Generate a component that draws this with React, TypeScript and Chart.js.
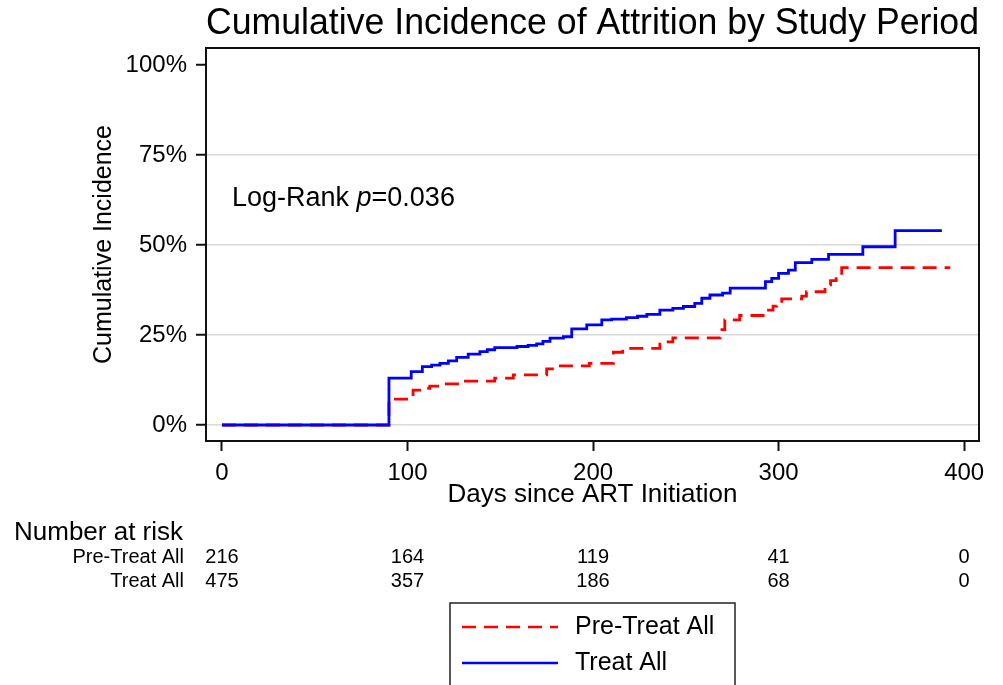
import React, { useEffect, useRef } from "react";
import { Chart, registerables } from "chart.js";

Chart.register(...registerables);

const FONT = "'Liberation Sans', Arial, Helvetica, sans-serif";

// Kaplan-Meier style cumulative incidence (%), step points: day of event -> new level
const preTreatDays = [0, 90, 103, 108, 112, 117.5, 128, 147, 157, 175, 180.4, 198, 211, 216, 236, 243, 268.5, 271, 279, 293.6, 297, 299, 301.7, 312.5, 315, 325, 328, 331, 334, 392.5];
const preTreatIncidence = [0, 7.2, 9.7, 10.2, 10.8, 11.4, 12.2, 13.0, 13.9, 15.6, 16.4, 17.1, 20.2, 21.3, 23.1, 24.2, 26.5, 29.2, 30.4, 31.9, 33.0, 33.8, 35.0, 35.8, 37.0, 38.9, 40.1, 42.1, 43.7, 43.7];

const treatDays = [0, 90, 102, 108, 113, 117.5, 122, 126.5, 132.7, 139, 143, 147, 159, 165, 169.6, 173, 176.8, 184, 188.5, 196.6, 204.7, 210, 218, 224, 229, 236, 243, 248.7, 254.8, 258.6, 263, 269.8, 273.9, 292.9, 296.3, 300, 305.3, 309, 317.9, 326.9, 345.4, 362.8, 388];
const treatIncidence = [0, 13.0, 14.8, 16.2, 16.6, 17.1, 17.8, 18.8, 19.7, 20.4, 20.9, 21.5, 21.8, 22.1, 22.5, 23.2, 24.1, 24.5, 26.7, 27.8, 29.2, 29.4, 29.8, 30.2, 30.7, 31.9, 32.4, 32.9, 33.8, 35.2, 36.1, 36.6, 38.0, 39.8, 40.7, 42.1, 43.0, 45.1, 46.0, 47.4, 49.5, 54.0, 54.0];

const xTicks = [0, 100, 200, 300, 400];
const yTicks = [0, 25, 50, 75, 100];

const riskTimes = [0, 100, 200, 300, 400];
const riskPreTreat = [216, 164, 119, 41, 0];
const riskTreat = [475, 357, 186, 68, 0];

const seriesNames = ["Pre-Treat All", "Treat All"];
const seriesColors = ["#ff0000", "#0000ff"];

const titleText = "Cumulative Incidence of Attrition by Study Period";
const xTitle = "Days since ART Initiation";
const yTitle = "Cumulative Incidence";
const riskHeader = "Number at risk";
const annotationPre = "Log-Rank ";
const annotationP = "p";
const annotationPost = "=0.036";
const annotationAt = { x: 5.4, y: 63 };

const toPoints = (xs: number[], ys: number[]) => xs.map((x, i) => ({ x, y: ys[i] }));

const extrasPlugin = {
  id: "extras",
  afterDatasetsDraw(chart: any) {
    const { ctx, chartArea, scales } = chart;
    const xs = scales.x;
    const ys = scales.y;
    ctx.save();
    // plot frame
    ctx.strokeStyle = "#111";
    ctx.lineWidth = 2;
    ctx.strokeRect(chartArea.left, chartArea.top, chartArea.right - chartArea.left, chartArea.bottom - chartArea.top);

    // annotation
    ctx.fillStyle = "#000";
    ctx.textBaseline = "middle";
    ctx.textAlign = "left";
    const ax = xs.getPixelForValue(annotationAt.x);
    const ay = ys.getPixelForValue(annotationAt.y);
    ctx.font = `27px ${FONT}`;
    ctx.fillText(annotationPre, ax, ay);
    let w = ctx.measureText(annotationPre).width;
    ctx.font = `italic 27px ${FONT}`;
    ctx.fillText(annotationP, ax + w, ay);
    w += ctx.measureText(annotationP).width;
    ctx.font = `27px ${FONT}`;
    ctx.fillText(annotationPost, ax + w, ay);
    ctx.restore();
  },
  afterDraw(chart: any) {
    const { ctx, scales } = chart;
    const xs = scales.x;
    ctx.save();
    ctx.fillStyle = "#000";
    ctx.textBaseline = "middle";
    // number at risk
    ctx.font = `26px ${FONT}`;
    ctx.textAlign = "left";
    ctx.fillText(riskHeader, 14, 533);
    ctx.font = `20px ${FONT}`;
    ctx.textAlign = "right";
    ctx.fillText(seriesNames[0], 184, 557);
    ctx.fillText(seriesNames[1], 184, 581);
    ctx.textAlign = "center";
    riskTimes.forEach((t, i) => {
      const px = xs.getPixelForValue(t);
      ctx.fillText(String(riskPreTreat[i]), px, 557);
      ctx.fillText(String(riskTreat[i]), px, 581);
    });

    // legend
    ctx.strokeStyle = "#222";
    ctx.lineWidth = 1.5;
    ctx.strokeRect(450, 603, 285, 120);
    const rows = [627, 663];
    chart.data.datasets.forEach((ds: any, i: number) => {
      ctx.beginPath();
      ctx.strokeStyle = ds.borderColor;
      ctx.lineWidth = 2.5;
      ctx.setLineDash(ds.borderDash || []);
      ctx.moveTo(462, rows[i]);
      ctx.lineTo(558, rows[i]);
      ctx.stroke();
      ctx.setLineDash([]);
      ctx.fillStyle = "#000";
      ctx.font = `25px ${FONT}`;
      ctx.textAlign = "left";
      ctx.fillText(ds.label, 575, rows[i]);
    });
    ctx.restore();
  },
};

export default function App() {
  const canvasRef = useRef<HTMLCanvasElement | null>(null);

  useEffect(() => {
    if (!canvasRef.current) return;
    Chart.defaults.font.family = FONT;
    Chart.defaults.color = "#000";
    const chart = new Chart(canvasRef.current, {
      type: "line",
      data: {
        datasets: [
          {
            label: seriesNames[0],
            data: toPoints(preTreatDays, preTreatIncidence),
            borderColor: seriesColors[0],
            borderWidth: 2.8,
            borderDash: [14, 8],
            stepped: true,
            pointRadius: 0,
            fill: false,
            order: 2,
          },
          {
            label: seriesNames[1],
            data: toPoints(treatDays, treatIncidence),
            borderColor: seriesColors[1],
            borderWidth: 2.8,
            stepped: true,
            pointRadius: 0,
            fill: false,
            order: 1,
          },
        ],
      },
      options: {
        responsive: false,
        animation: false,
        layout: { padding: { left: 0, right: 24, top: 0, bottom: 174 } },
        plugins: {
          legend: { display: false },
          tooltip: { enabled: false },
          title: {
            display: true,
            fullSize: false,
            text: titleText,
            color: "#000",
            font: { size: 36, weight: "normal" },
            padding: { top: 2, bottom: 2.8 },
          },
        },
        scales: {
          x: {
            type: "linear",
            min: -8.6,
            max: 408,
            afterBuildTicks: (s: any) => {
              s.ticks = xTicks.map((v) => ({ value: v }));
            },
            afterFit: (s: any) => {
              s.height = 70;
            },
            grid: {
              drawOnChartArea: false,
              drawTicks: true,
              tickLength: 10,
              tickColor: "#111",
              tickWidth: 2,
            },
            border: { display: false },
            ticks: {
              font: { size: 24 },
              color: "#000",
              padding: 8,
              maxRotation: 0,
              autoSkip: false,
            },
            title: {
              display: true,
              text: xTitle,
              color: "#000",
              font: { size: 26 },
              padding: { top: 0, bottom: 1 },
            },
          },
          y: {
            type: "linear",
            min: -4.45,
            max: 104.7,
            afterBuildTicks: (s: any) => {
              s.ticks = yTicks.map((v) => ({ value: v }));
            },
            afterFit: (s: any) => {
              s.width = 206;
            },
            grid: {
              color: (c: any) => (c.tick && c.tick.value === 100 ? "rgba(0,0,0,0)" : "#d9d9d9"),
              lineWidth: 1.5,
              drawTicks: true,
              tickLength: 10,
              tickColor: "#111",
              tickWidth: 2,
            },
            border: { display: false },
            ticks: {
              font: { size: 24 },
              color: "#000",
              padding: 9,
              callback: (v: any) => `${v}%`,
            },
            title: {
              display: true,
              text: yTitle,
              color: "#000",
              font: { size: 25 },
              padding: { top: 89, bottom: 0 },
            },
          },
        },
      },
      plugins: [extrasPlugin],
    });
    return () => chart.destroy();
  }, []);

  return (
    <div style={{ position: "absolute", left: 0, top: 0, width: 1003, height: 685, background: "#fff" }}>
      <canvas ref={canvasRef} width={1003} height={685} style={{ display: "block" }} />
    </div>
  );
}
